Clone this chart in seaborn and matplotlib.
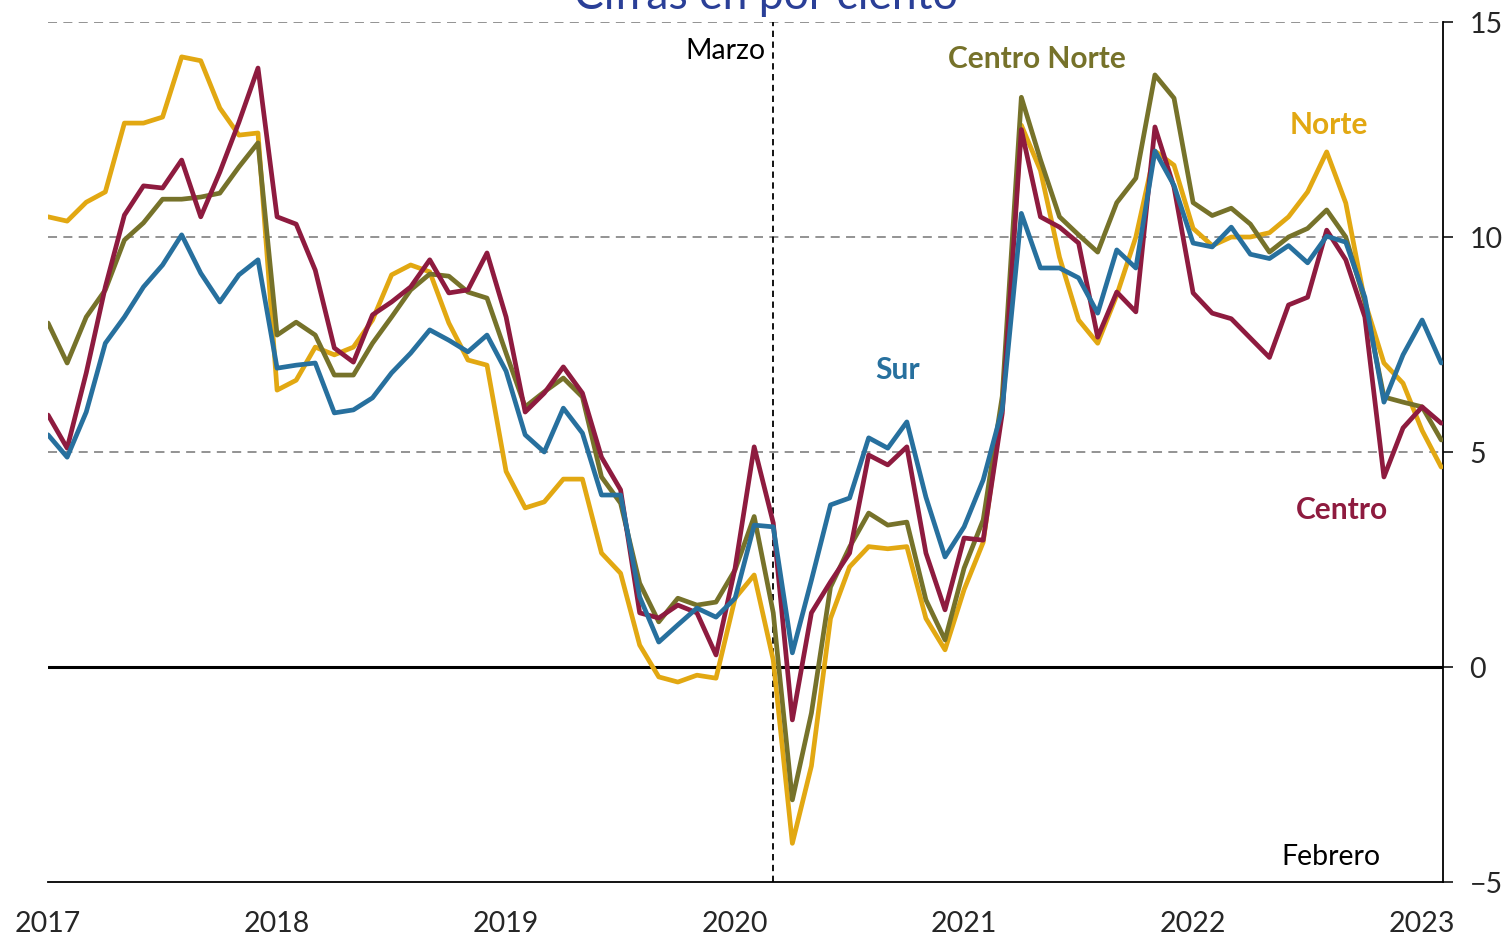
import numpy as np
import pandas as pd
import seaborn as sns
import matplotlib.pyplot as plt

# variación anual mensual, ene 2017 - feb 2023
norte = [10.47, 10.37, 10.81, 11.05, 12.65, 12.65, 12.79, 14.19, 14.1, 13.0, 12.37, 12.42,
         6.44, 6.67, 7.44, 7.26, 7.44, 8.07, 9.12, 9.35, 9.19, 8.0, 7.14, 7.02,
         4.55, 3.7, 3.84, 4.37, 4.37, 2.65, 2.18, 0.51, -0.23, -0.35, -0.19, -0.26,
         1.6, 2.14, 0.16, -4.1, -2.3, 1.13, 2.33, 2.8, 2.75, 2.8, 1.13, 0.4,
         1.8, 2.9, 6.1, 12.6, 11.55, 9.53, 8.07, 7.53, 8.65, 10.0, 12.0, 11.67,
         10.2, 9.8, 10.0, 10.0, 10.1, 10.47, 11.05, 11.98, 10.79, 8.5, 7.07, 6.6,
         5.5, 4.65]
centro_norte = [8.0, 7.07, 8.14, 8.77, 9.93, 10.33, 10.88, 10.88, 10.93, 11.02, 11.63, 12.19,
                7.72, 8.02, 7.72, 6.79, 6.79, 7.53, 8.14, 8.77, 9.14, 9.09, 8.72, 8.58,
                7.3, 6.05, 6.4, 6.72, 6.28, 4.42, 3.81, 1.95, 1.05, 1.6, 1.44, 1.51,
                2.26, 3.5, 1.26, -3.09, -1.07, 1.86, 2.79, 3.58, 3.3, 3.37, 1.56, 0.63,
                2.3, 3.42, 6.3, 13.25, 11.8, 10.47, 10.05, 9.65, 10.8, 11.37, 13.77, 13.23,
                10.8, 10.5, 10.67, 10.3, 9.65, 10.0, 10.2, 10.63, 10.0, 8.5, 6.28, 6.16,
                6.05, 5.28]
centro = [5.86, 5.09, 6.84, 8.84, 10.51, 11.19, 11.14, 11.79, 10.47, 11.51, 12.67, 13.93,
          10.47, 10.3, 9.23, 7.42, 7.09, 8.19, 8.49, 8.84, 9.47, 8.7, 8.77, 9.63,
          8.14, 5.93, 6.37, 6.98, 6.37, 4.88, 4.12, 1.26, 1.14, 1.44, 1.26, 0.28,
          2.3, 5.12, 3.35, -1.23, 1.26, 1.98, 2.65, 4.93, 4.7, 5.12, 2.65, 1.33,
          3.0, 2.95, 5.9, 12.5, 10.47, 10.23, 9.86, 7.67, 8.72, 8.26, 12.56, 11.16,
          8.7, 8.23, 8.1, 7.65, 7.2, 8.42, 8.6, 10.16, 9.47, 8.14, 4.42, 5.56,
          6.05, 5.67]
sur = [5.4, 4.88, 5.93, 7.53, 8.14, 8.84, 9.35, 10.05, 9.16, 8.49, 9.12, 9.47,
       6.95, 7.02, 7.07, 5.91, 5.98, 6.26, 6.84, 7.3, 7.84, 7.6, 7.33, 7.72,
       6.88, 5.4, 5.0, 6.02, 5.44, 4.0, 4.0, 1.63, 0.58, 0.98, 1.37, 1.16,
       1.6, 3.3, 3.26, 0.33, 2.02, 3.77, 3.93, 5.33, 5.09, 5.7, 3.95, 2.56,
       3.26, 4.35, 6.0, 10.55, 9.28, 9.28, 9.05, 8.23, 9.7, 9.28, 12.0, 11.2,
       9.86, 9.77, 10.23, 9.6, 9.5, 9.8, 9.4, 10.02, 9.88, 8.6, 6.16, 7.26,
       8.07, 7.07]
anios = ['2017', '2018', '2019', '2020', '2021', '2022', '2023']
regiones = ['Norte', 'Centro Norte', 'Centro', 'Sur']
colores = {'Norte': '#E2A812', 'Centro Norte': '#76722A', 'Centro': '#8E1B3F', 'Sur': '#27709E'}

mes = np.arange(len(norte))
df = pd.concat([
    pd.DataFrame({'mes': mes, 'valor': vals, 'region': reg})
    for reg, vals in zip(regiones, [norte, centro_norte, centro, sur])
])

sns.set_style('white')
plt.rcParams['font.family'] = ['Lato', 'DejaVu Sans']

fig = plt.figure(figsize=(15.07, 9.38), dpi=100)
ax = fig.add_axes([0.0319, 0.0597, 0.9257, 0.9168])

for y in [5, 10, 15]:
    ax.axhline(y, color='#8a8a8a', lw=1.3, ls=(0, (5, 3.5)), zorder=1)
ax.axhline(0, color='black', lw=2.2, zorder=1)
ax.axvline(38, color='black', lw=1.3, ls=(0, (3.5, 2.5)), zorder=1)

sns.lineplot(data=df, x='mes', y='valor', hue='region', hue_order=regiones,
             palette=colores, linewidth=3.4, legend=False, ax=ax, zorder=3)

ax.set_xlim(0, 73.1)
ax.set_ylim(-5, 15)
ax.set_xticks(np.arange(0, 73, 12))
ax.set_xticklabels(anios)
ax.set_yticks([-5, 0, 5, 10, 15])
ax.yaxis.tick_right()
ax.set_xlabel('')
ax.set_ylabel('')
for s in ['left', 'top']:
    ax.spines[s].set_visible(False)
for s in ['right', 'bottom']:
    ax.spines[s].set_color('black')
    ax.spines[s].set_linewidth(1.3)
ax.tick_params(axis='x', direction='out', length=7, width=1.3, pad=14, labelsize=20.5)
ax.tick_params(axis='y', direction='out', length=7, width=1.3, pad=12, labelsize=20.5)

ax.text(51.8, 14.15, 'Centro Norte', color=colores['Centro Norte'], fontsize=21.5,
        fontweight='bold', ha='center', va='center')
ax.text(67.1, 12.6, 'Norte', color=colores['Norte'], fontsize=21.5,
        fontweight='bold', ha='center', va='center')
ax.text(44.5, 6.9, 'Sur', color=colores['Sur'], fontsize=21.5,
        fontweight='bold', ha='center', va='center')
ax.text(67.8, 3.65, 'Centro', color=colores['Centro'], fontsize=21.5,
        fontweight='bold', ha='center', va='center')
ax.text(37.6, 14.33, 'Marzo', color='black', fontsize=20.5, ha='right', va='center')
ax.text(67.2, -4.42, 'Febrero', color='black', fontsize=20.5, ha='center', va='center')

fig.text(0.508, 1 - 9 / 938, 'Cifras en por ciento', color='#2A3F97', fontsize=32,
         ha='center', va='baseline')

fig.savefig('out.png', dpi=100)
